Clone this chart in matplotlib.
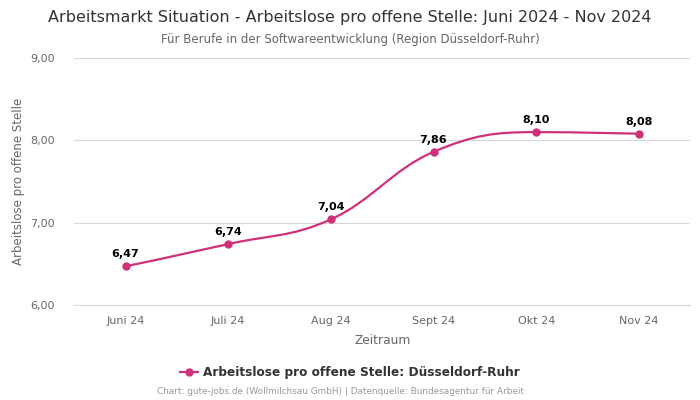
import numpy as np
import matplotlib
matplotlib.use("Agg")
import matplotlib.pyplot as plt
from matplotlib.path import Path
from matplotlib.patches import PathPatch
from matplotlib.lines import Line2D

categories = ["Juni 24", "Juli 24", "Aug 24", "Sept 24", "Okt 24", "Nov 24"]
values = [6.47, 6.74, 7.04, 7.86, 8.10, 8.08]
yticks = [6.0, 7.0, 8.0, 9.0]
title = "Arbeitsmarkt Situation - Arbeitslose pro offene Stelle: Juni 2024 - Nov 2024"
subtitle = "Für Berufe in der Softwareentwicklung (Region Düsseldorf-Ruhr)"
series_name = "Arbeitslose pro offene Stelle: Düsseldorf-Ruhr"
footer = "Chart: gute-jobs.de (Wollmilchsau GmbH) | Datenquelle: Bundesagentur für Arbeit"

color = "#d0307a"

def fmt(v):
    return f"{v:.2f}".replace(".", ",")

fig = plt.figure(figsize=(7, 4), dpi=100)
ax = fig.add_axes([0.106, 0.2375, 0.88, 0.6175])

xs = np.arange(len(values), dtype=float)
ys = np.array(values, dtype=float)

# Highcharts-style spline control points
smoothing, denom = 1.5, 2.5
n = len(xs)
lc = [None] * n
rc = [None] * n
for i in range(1, n - 1):
    x, y = xs[i], ys[i]
    px, py = xs[i - 1], ys[i - 1]
    nx, ny = xs[i + 1], ys[i + 1]
    lcx = (smoothing * x + px) / denom
    lcy = (smoothing * y + py) / denom
    rcx = (smoothing * x + nx) / denom
    rcy = (smoothing * y + ny) / denom
    if rcx != lcx:
        corr = ((rcy - lcy) * (rcx - x)) / (rcx - lcx) + y - rcy
        lcy += corr
        rcy += corr
    if lcy > py and lcy > y:
        lcy = max(py, y)
        rcy = 2 * y - lcy
    elif lcy < py and lcy < y:
        lcy = min(py, y)
        rcy = 2 * y - lcy
    if rcy > ny and rcy > y:
        rcy = max(ny, y)
        lcy = 2 * y - rcy
    elif rcy < ny and rcy < y:
        rcy = min(ny, y)
        lcy = 2 * y - rcy
    lc[i] = (lcx, lcy)
    rc[i] = (rcx, rcy)
lc[n - 1] = (xs[n - 1], ys[n - 1])
rc[0] = (xs[0], ys[0])

verts = [(xs[0], ys[0])]
codes = [Path.MOVETO]
for i in range(1, n):
    verts += [rc[i - 1], lc[i], (xs[i], ys[i])]
    codes += [Path.CURVE4] * 3
path = Path(verts, codes)
ax.add_patch(PathPatch(path, facecolor="none", edgecolor=color, lw=1.6, zorder=3))
ax.plot(xs, ys, "o", color=color, ms=5, zorder=4)

for x, y in zip(xs, ys):
    ax.annotate(fmt(y), (x, y), xytext=(0, 5), textcoords="offset points",
                ha="center", va="bottom", fontsize=8, fontweight="bold", color="black")

ax.set_xlim(-0.5, 5.5)
ax.set_ylim(6.0, 9.0)
ax.set_yticks(yticks)
ax.set_yticklabels([fmt(v) for v in yticks])
ax.set_xticks(xs)
ax.set_xticklabels(categories)
ax.tick_params(axis="both", length=0, labelsize=8, colors="#666666", pad=8)
ax.tick_params(axis="y", pad=14)
ax.grid(axis="y", color="#d8d8d8", lw=0.8)
ax.set_axisbelow(True)
for s in ["top", "right", "left"]:
    ax.spines[s].set_visible(False)
ax.spines["bottom"].set_color("#d8d8d8")
ax.set_xlabel("Zeitraum", fontsize=8.8, color="#666666", labelpad=6)
ax.set_ylabel("Arbeitslose pro offene Stelle", fontsize=8.5, color="#666666", labelpad=4)

fig.text(0.5, 0.957, title, ha="center", va="center", fontsize=11.5, color="#333333")
fig.text(0.5, 0.902, subtitle, ha="center", va="center", fontsize=8.5, color="#666666")

handle = Line2D([0], [0], color=color, marker="o", ms=5, lw=1.6)
leg = fig.legend([handle], [series_name], loc="center", bbox_to_anchor=(0.5, 0.068),
                 frameon=False, prop={"size": 8.7, "weight": "bold"}, handlelength=1.5,
                 handletextpad=0.4)
for t in leg.get_texts():
    t.set_color("#333333")

fig.text(0.486, 0.02, footer, ha="center", va="center", fontsize=6.4, color="#999999")

fig.savefig("out.png", dpi=100)
